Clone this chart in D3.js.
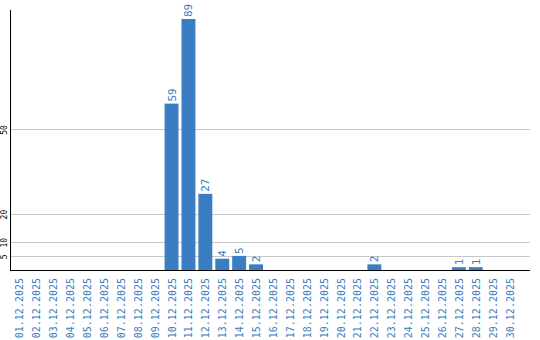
<!DOCTYPE html>
<html>
<head>
<meta charset="utf-8">
<script src="https://cdn.jsdelivr.net/npm/d3@7"></script>
<style>
body { margin: 0; background: #fff; }
</style>
</head>
<body>
<svg width="540" height="340"></svg>
<script>
const days = ["01.12.2025","02.12.2025","03.12.2025","04.12.2025","05.12.2025","06.12.2025",
  "07.12.2025","08.12.2025","09.12.2025","10.12.2025","11.12.2025","12.12.2025","13.12.2025",
  "14.12.2025","15.12.2025","16.12.2025","17.12.2025","18.12.2025","19.12.2025","20.12.2025",
  "21.12.2025","22.12.2025","23.12.2025","24.12.2025","25.12.2025","26.12.2025","27.12.2025",
  "28.12.2025","29.12.2025","30.12.2025"];
const counts = [0,0,0,0,0,0,0,0,0,59,89,27,4,5,2,0,0,0,0,0,0,2,0,0,0,0,1,1,0,0];
const yTicks = [5, 10, 20, 50];

const blue = "#3a7dc2";
const plotLeft = 10, plotRight = 530, plotTop = 10, plotBottom = 270;

const svg = d3.select("svg");

const x = d3.scaleBand().domain(days).range([plotLeft - 0.5, 519.5]).padding(3 / 17);
const y = d3.scaleLinear().domain([0, 92.2]).range([plotBottom, plotTop]);

// grid lines
svg.append("g")
  .selectAll("line")
  .data(yTicks)
  .enter()
  .append("line")
  .attr("x1", plotLeft + 1)
  .attr("x2", plotRight)
  .attr("y1", d => Math.round(y(d)) + 0.5)
  .attr("y2", d => Math.round(y(d)) + 0.5)
  .attr("stroke", "#c8c8c8");

// y tick labels
svg.append("g")
  .selectAll("text")
  .data(yTicks)
  .enter()
  .append("text")
  .attr("transform", d => "translate(7," + (y(d) + 1) + ") rotate(-90)")
  .attr("text-anchor", "middle")
  .attr("font-family", "DejaVu Sans Mono")
  .attr("font-size", 8)
  .attr("fill", "#000")
  .text(d => d);

// bars
svg.append("g")
  .selectAll("rect")
  .data(counts)
  .enter()
  .append("rect")
  .attr("x", (d, i) => x(days[i]))
  .attr("y", d => y(d))
  .attr("width", x.bandwidth())
  .attr("height", d => plotBottom - y(d))
  .attr("fill", blue);

// value labels
svg.append("g")
  .selectAll("text")
  .data(counts.map((v, i) => ({ v: v, day: days[i] })).filter(d => d.v > 0))
  .enter()
  .append("text")
  .attr("transform", d => "translate(" + (x(d.day) + x.bandwidth() / 2 + 4) + "," + (y(d.v) - 2) + ") rotate(-90)")
  .attr("font-family", "DejaVu Sans Mono")
  .attr("font-size", 11)
  .attr("fill", blue)
  .text(d => d.v);

// axes lines
svg.append("line")
  .attr("x1", plotLeft + 0.5).attr("x2", plotLeft + 0.5)
  .attr("y1", plotTop).attr("y2", plotBottom + 1)
  .attr("stroke", "#000");
svg.append("line")
  .attr("x1", plotLeft).attr("x2", plotRight)
  .attr("y1", plotBottom + 0.5).attr("y2", plotBottom + 0.5)
  .attr("stroke", "#000");

// x labels
svg.append("g")
  .selectAll("text")
  .data(days)
  .enter()
  .append("text")
  .attr("transform", d => "translate(" + (x(d) + x.bandwidth() / 2 + 4) + ",278) rotate(-90)")
  .attr("text-anchor", "end")
  .attr("font-family", "DejaVu Sans Mono")
  .attr("font-size", 10)
  .attr("fill", blue)
  .text(d => d);
</script>
</body>
</html>
